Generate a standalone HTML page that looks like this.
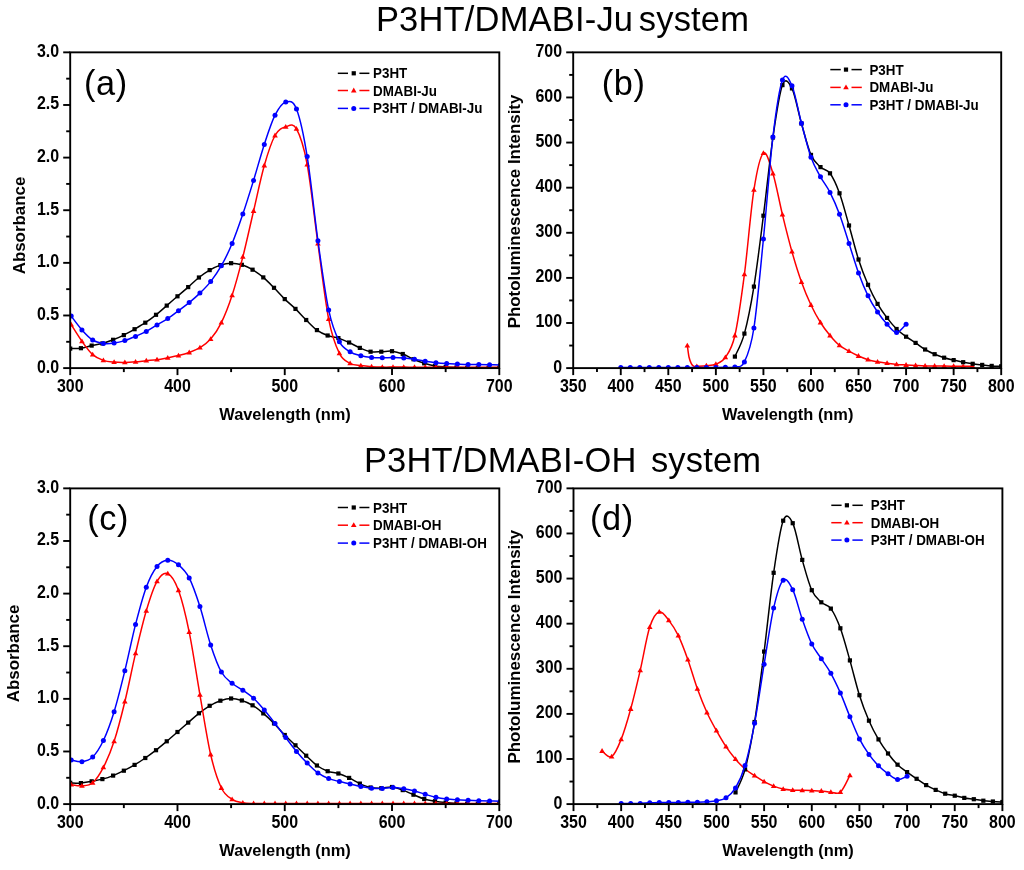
<!DOCTYPE html>
<html><head><meta charset="utf-8"><title>P3HT/DMABI spectra</title><style>html,body{margin:0;padding:0;background:#fff;width:1024px;height:870px;overflow:hidden;}svg{display:block;will-change:transform;font-family:"Liberation Sans",sans-serif;}</style></head><body><svg width="1024" height="870" viewBox="0 0 1024 870"><rect width="1024" height="870" fill="#fff"/>
<defs><clipPath id="ca"><rect x="70.20" y="52.35" width="429.10" height="315.75"/></clipPath><clipPath id="cb"><rect x="573.20" y="52.35" width="428.00" height="315.75"/></clipPath><clipPath id="cc"><rect x="70.20" y="488.40" width="429.10" height="315.70"/></clipPath><clipPath id="cd"><rect x="573.50" y="488.40" width="428.90" height="315.70"/></clipPath></defs>
<text x="375.90" y="31.2" font-size="34.5" letter-spacing="0.18" font-family="'Liberation Sans', sans-serif">P3HT/DMABI-Ju</text>
<text x="638.80" y="31.2" font-size="34.5" letter-spacing="0.18" font-family="'Liberation Sans', sans-serif">system</text>
<text x="363.90" y="471.9" font-size="34.5" letter-spacing="0.18" font-family="'Liberation Sans', sans-serif">P3HT/DMABI-OH</text>
<text x="650.90" y="471.9" font-size="34.5" letter-spacing="0.18" font-family="'Liberation Sans', sans-serif">system</text>
<g clip-path="url(#ca)"><path d="M70.20,348.60 C71.99,348.53 77.35,348.70 80.93,348.20 C84.50,347.70 88.08,346.40 91.66,345.60 C95.23,344.80 98.81,344.37 102.38,343.40 C105.96,342.43 109.53,341.18 113.11,339.80 C116.69,338.42 120.26,336.87 123.84,335.10 C127.41,333.33 130.99,331.27 134.56,329.20 C138.14,327.13 141.72,325.10 145.29,322.70 C148.87,320.30 152.44,317.65 156.02,314.80 C159.60,311.95 163.17,308.68 166.75,305.60 C170.32,302.52 173.90,299.38 177.48,296.30 C181.05,293.22 184.63,290.23 188.20,287.10 C191.78,283.97 195.35,280.33 198.93,277.50 C202.51,274.67 206.08,272.17 209.66,270.10 C213.23,268.03 216.81,266.25 220.38,265.10 C223.96,263.95 227.54,263.25 231.11,263.20 C234.69,263.15 238.26,263.72 241.84,264.80 C245.42,265.88 248.99,267.60 252.57,269.70 C256.14,271.80 259.72,274.38 263.30,277.40 C266.87,280.42 270.45,284.18 274.02,287.80 C277.60,291.42 281.17,295.58 284.75,299.10 C288.33,302.62 291.90,305.42 295.48,308.90 C299.05,312.38 302.63,316.47 306.20,320.00 C309.78,323.53 313.36,327.52 316.93,330.10 C320.51,332.68 324.08,334.17 327.66,335.50 C331.24,336.83 334.81,336.93 338.39,338.10 C341.96,339.27 345.54,340.87 349.12,342.50 C352.69,344.13 356.27,346.37 359.84,347.90 C363.42,349.43 366.99,351.07 370.57,351.70 C374.15,352.33 377.72,351.78 381.30,351.70 C384.87,351.62 388.45,350.82 392.02,351.20 C395.60,351.58 399.18,352.67 402.75,354.00 C406.33,355.33 409.90,357.65 413.48,359.20 C417.06,360.75 420.63,362.18 424.21,363.30 C427.78,364.42 431.36,365.28 434.94,365.90 C438.51,366.52 442.09,366.72 445.66,367.00 C449.24,367.28 452.81,367.47 456.39,367.60 C459.97,367.73 463.54,367.77 467.12,367.80 C470.69,367.83 474.27,367.80 477.84,367.80 C481.42,367.80 485.00,367.80 488.57,367.80 C492.15,367.80 497.51,367.80 499.30,367.80" fill="none" stroke="#000" stroke-width="1.5" stroke-linejoin="round"/><rect x="68.10" y="346.50" width="4.20" height="4.20" fill="#000"/><rect x="78.83" y="346.10" width="4.20" height="4.20" fill="#000"/><rect x="89.56" y="343.50" width="4.20" height="4.20" fill="#000"/><rect x="100.28" y="341.30" width="4.20" height="4.20" fill="#000"/><rect x="111.01" y="337.70" width="4.20" height="4.20" fill="#000"/><rect x="121.74" y="333.00" width="4.20" height="4.20" fill="#000"/><rect x="132.47" y="327.10" width="4.20" height="4.20" fill="#000"/><rect x="143.19" y="320.60" width="4.20" height="4.20" fill="#000"/><rect x="153.92" y="312.70" width="4.20" height="4.20" fill="#000"/><rect x="164.65" y="303.50" width="4.20" height="4.20" fill="#000"/><rect x="175.38" y="294.20" width="4.20" height="4.20" fill="#000"/><rect x="186.10" y="285.00" width="4.20" height="4.20" fill="#000"/><rect x="196.83" y="275.40" width="4.20" height="4.20" fill="#000"/><rect x="207.56" y="268.00" width="4.20" height="4.20" fill="#000"/><rect x="218.28" y="263.00" width="4.20" height="4.20" fill="#000"/><rect x="229.01" y="261.10" width="4.20" height="4.20" fill="#000"/><rect x="239.74" y="262.70" width="4.20" height="4.20" fill="#000"/><rect x="250.47" y="267.60" width="4.20" height="4.20" fill="#000"/><rect x="261.19" y="275.30" width="4.20" height="4.20" fill="#000"/><rect x="271.92" y="285.70" width="4.20" height="4.20" fill="#000"/><rect x="282.65" y="297.00" width="4.20" height="4.20" fill="#000"/><rect x="293.38" y="306.80" width="4.20" height="4.20" fill="#000"/><rect x="304.10" y="317.90" width="4.20" height="4.20" fill="#000"/><rect x="314.83" y="328.00" width="4.20" height="4.20" fill="#000"/><rect x="325.56" y="333.40" width="4.20" height="4.20" fill="#000"/><rect x="336.29" y="336.00" width="4.20" height="4.20" fill="#000"/><rect x="347.01" y="340.40" width="4.20" height="4.20" fill="#000"/><rect x="357.74" y="345.80" width="4.20" height="4.20" fill="#000"/><rect x="368.47" y="349.60" width="4.20" height="4.20" fill="#000"/><rect x="379.20" y="349.60" width="4.20" height="4.20" fill="#000"/><rect x="389.92" y="349.10" width="4.20" height="4.20" fill="#000"/><rect x="400.65" y="351.90" width="4.20" height="4.20" fill="#000"/><rect x="411.38" y="357.10" width="4.20" height="4.20" fill="#000"/><rect x="422.11" y="361.20" width="4.20" height="4.20" fill="#000"/><rect x="432.83" y="363.80" width="4.20" height="4.20" fill="#000"/><rect x="443.56" y="364.90" width="4.20" height="4.20" fill="#000"/><rect x="454.29" y="365.50" width="4.20" height="4.20" fill="#000"/><rect x="465.02" y="365.70" width="4.20" height="4.20" fill="#000"/><rect x="475.74" y="365.70" width="4.20" height="4.20" fill="#000"/><rect x="486.47" y="365.70" width="4.20" height="4.20" fill="#000"/><rect x="497.20" y="365.70" width="4.20" height="4.20" fill="#000"/></g>
<g clip-path="url(#ca)"><path d="M71.20,324.70 C72.99,327.47 78.35,336.32 81.93,341.30 C85.50,346.28 89.08,351.42 92.66,354.60 C96.23,357.78 99.81,359.15 103.38,360.40 C106.96,361.65 110.53,361.77 114.11,362.10 C117.69,362.43 121.26,362.45 124.84,362.40 C128.41,362.35 131.99,362.08 135.56,361.80 C139.14,361.52 142.72,361.05 146.29,360.70 C149.87,360.35 153.44,360.18 157.02,359.70 C160.60,359.22 164.17,358.48 167.75,357.80 C171.32,357.12 174.90,356.48 178.48,355.60 C182.05,354.72 185.63,353.82 189.20,352.50 C192.78,351.18 196.35,349.93 199.93,347.70 C203.51,345.47 207.08,343.28 210.66,339.10 C214.23,334.92 217.81,329.90 221.38,322.60 C224.96,315.30 228.54,306.25 232.11,295.30 C235.69,284.35 239.26,270.95 242.84,256.90 C246.42,242.85 249.99,226.23 253.57,211.00 C257.14,195.77 260.72,178.08 264.30,165.50 C267.87,152.92 271.45,141.95 275.02,135.50 C278.60,129.05 282.17,127.90 285.75,126.80 C289.33,125.70 292.90,122.62 296.48,128.90 C300.05,135.18 303.63,145.37 307.20,164.50 C310.78,183.63 314.36,217.93 317.93,243.70 C321.51,269.47 325.08,300.82 328.66,319.10 C332.24,337.38 335.81,346.02 339.39,353.40 C342.96,360.78 346.54,361.37 350.12,363.40 C353.69,365.43 357.27,365.05 360.84,365.60 C364.42,366.15 367.99,366.45 371.57,366.70 C375.15,366.95 378.72,367.03 382.30,367.10 C385.87,367.17 389.45,367.10 393.02,367.10 C396.60,367.10 400.18,367.08 403.75,367.10 C407.33,367.12 410.90,367.18 414.48,367.20 C418.06,367.22 421.63,367.20 425.21,367.20 C428.78,367.20 432.36,367.18 435.94,367.20 C439.51,367.22 443.09,367.28 446.66,367.30 C450.24,367.32 453.81,367.30 457.39,367.30 C460.97,367.30 464.54,367.30 468.12,367.30 C471.69,367.30 475.27,367.30 478.84,367.30 C482.42,367.30 486.00,367.30 489.57,367.30 C493.15,367.30 498.51,367.30 500.30,367.30" fill="none" stroke="#ff0000" stroke-width="1.5" stroke-linejoin="round"/><path d="M71.20,321.82L74.00,326.62L68.40,326.62Z" fill="#ff0000"/><path d="M81.93,338.42L84.73,343.22L79.13,343.22Z" fill="#ff0000"/><path d="M92.66,351.72L95.45,356.52L89.86,356.52Z" fill="#ff0000"/><path d="M103.38,357.52L106.18,362.32L100.58,362.32Z" fill="#ff0000"/><path d="M114.11,359.22L116.91,364.02L111.31,364.02Z" fill="#ff0000"/><path d="M124.84,359.52L127.64,364.32L122.04,364.32Z" fill="#ff0000"/><path d="M135.56,358.92L138.37,363.72L132.76,363.72Z" fill="#ff0000"/><path d="M146.29,357.82L149.09,362.62L143.49,362.62Z" fill="#ff0000"/><path d="M157.02,356.82L159.82,361.62L154.22,361.62Z" fill="#ff0000"/><path d="M167.75,354.92L170.55,359.72L164.95,359.72Z" fill="#ff0000"/><path d="M178.48,352.72L181.28,357.52L175.68,357.52Z" fill="#ff0000"/><path d="M189.20,349.62L192.00,354.42L186.40,354.42Z" fill="#ff0000"/><path d="M199.93,344.82L202.73,349.62L197.13,349.62Z" fill="#ff0000"/><path d="M210.66,336.22L213.46,341.02L207.86,341.02Z" fill="#ff0000"/><path d="M221.38,319.72L224.19,324.52L218.58,324.52Z" fill="#ff0000"/><path d="M232.11,292.42L234.91,297.22L229.31,297.22Z" fill="#ff0000"/><path d="M242.84,254.02L245.64,258.82L240.04,258.82Z" fill="#ff0000"/><path d="M253.57,208.12L256.37,212.92L250.77,212.92Z" fill="#ff0000"/><path d="M264.30,162.62L267.10,167.42L261.50,167.42Z" fill="#ff0000"/><path d="M275.02,132.62L277.82,137.42L272.22,137.42Z" fill="#ff0000"/><path d="M285.75,123.92L288.55,128.72L282.95,128.72Z" fill="#ff0000"/><path d="M296.48,126.02L299.28,130.82L293.68,130.82Z" fill="#ff0000"/><path d="M307.20,161.62L310.00,166.42L304.40,166.42Z" fill="#ff0000"/><path d="M317.93,240.82L320.73,245.62L315.13,245.62Z" fill="#ff0000"/><path d="M328.66,316.22L331.46,321.02L325.86,321.02Z" fill="#ff0000"/><path d="M339.39,350.52L342.19,355.32L336.59,355.32Z" fill="#ff0000"/><path d="M350.12,360.52L352.92,365.32L347.31,365.32Z" fill="#ff0000"/><path d="M360.84,362.72L363.64,367.52L358.04,367.52Z" fill="#ff0000"/><path d="M371.57,363.82L374.37,368.62L368.77,368.62Z" fill="#ff0000"/><path d="M382.30,364.22L385.10,369.02L379.50,369.02Z" fill="#ff0000"/><path d="M393.02,364.22L395.82,369.02L390.22,369.02Z" fill="#ff0000"/><path d="M403.75,364.22L406.55,369.02L400.95,369.02Z" fill="#ff0000"/><path d="M414.48,364.32L417.28,369.12L411.68,369.12Z" fill="#ff0000"/><path d="M425.21,364.32L428.01,369.12L422.41,369.12Z" fill="#ff0000"/><path d="M435.94,364.32L438.74,369.12L433.13,369.12Z" fill="#ff0000"/><path d="M446.66,364.42L449.46,369.22L443.86,369.22Z" fill="#ff0000"/><path d="M457.39,364.42L460.19,369.22L454.59,369.22Z" fill="#ff0000"/><path d="M468.12,364.42L470.92,369.22L465.32,369.22Z" fill="#ff0000"/><path d="M478.84,364.42L481.64,369.22L476.04,369.22Z" fill="#ff0000"/><path d="M489.57,364.42L492.37,369.22L486.77,369.22Z" fill="#ff0000"/><path d="M500.30,364.42L503.10,369.22L497.50,369.22Z" fill="#ff0000"/></g>
<g clip-path="url(#ca)"><path d="M71.20,316.10 C72.99,318.40 78.35,325.92 81.93,329.90 C85.50,333.88 89.08,337.75 92.66,340.00 C96.23,342.25 99.81,342.88 103.38,343.40 C106.96,343.92 110.53,343.57 114.11,343.10 C117.69,342.63 121.26,341.72 124.84,340.60 C128.41,339.48 131.99,337.93 135.56,336.40 C139.14,334.87 142.72,333.32 146.29,331.40 C149.87,329.48 153.44,327.03 157.02,324.90 C160.60,322.77 164.17,320.95 167.75,318.60 C171.32,316.25 174.90,313.47 178.48,310.80 C182.05,308.13 185.63,305.55 189.20,302.60 C192.78,299.65 196.35,296.60 199.93,293.10 C203.51,289.60 207.08,286.17 210.66,281.60 C214.23,277.03 217.81,272.05 221.38,265.70 C224.96,259.35 228.54,252.10 232.11,243.50 C235.69,234.90 239.26,224.62 242.84,214.10 C246.42,203.58 249.99,192.02 253.57,180.40 C257.14,168.78 260.72,155.27 264.30,144.40 C267.87,133.53 271.45,122.27 275.02,115.20 C278.60,108.13 282.17,103.03 285.75,102.00 C289.33,100.97 292.90,99.90 296.48,109.00 C300.05,118.10 303.63,134.65 307.20,156.60 C310.78,178.55 314.36,215.15 317.93,240.70 C321.51,266.25 325.08,293.07 328.66,309.90 C332.24,326.73 335.81,334.72 339.39,341.70 C342.96,348.68 346.54,349.47 350.12,351.80 C353.69,354.13 357.27,354.75 360.84,355.70 C364.42,356.65 367.99,357.15 371.57,357.50 C375.15,357.85 378.72,357.78 382.30,357.80 C385.87,357.82 389.45,357.58 393.02,357.60 C396.60,357.62 400.18,357.63 403.75,357.90 C407.33,358.17 410.90,358.65 414.48,359.20 C418.06,359.75 421.63,360.62 425.21,361.20 C428.78,361.78 432.36,362.30 435.94,362.70 C439.51,363.10 443.09,363.37 446.66,363.60 C450.24,363.83 453.81,363.95 457.39,364.10 C460.97,364.25 464.54,364.43 468.12,364.50 C471.69,364.57 475.27,364.47 478.84,364.50 C482.42,364.53 486.00,364.62 489.57,364.70 C493.15,364.78 498.51,364.95 500.30,365.00" fill="none" stroke="#0000ff" stroke-width="1.5" stroke-linejoin="round"/><circle cx="71.20" cy="316.10" r="2.50" fill="#0000ff"/><circle cx="81.93" cy="329.90" r="2.50" fill="#0000ff"/><circle cx="92.66" cy="340.00" r="2.50" fill="#0000ff"/><circle cx="103.38" cy="343.40" r="2.50" fill="#0000ff"/><circle cx="114.11" cy="343.10" r="2.50" fill="#0000ff"/><circle cx="124.84" cy="340.60" r="2.50" fill="#0000ff"/><circle cx="135.56" cy="336.40" r="2.50" fill="#0000ff"/><circle cx="146.29" cy="331.40" r="2.50" fill="#0000ff"/><circle cx="157.02" cy="324.90" r="2.50" fill="#0000ff"/><circle cx="167.75" cy="318.60" r="2.50" fill="#0000ff"/><circle cx="178.48" cy="310.80" r="2.50" fill="#0000ff"/><circle cx="189.20" cy="302.60" r="2.50" fill="#0000ff"/><circle cx="199.93" cy="293.10" r="2.50" fill="#0000ff"/><circle cx="210.66" cy="281.60" r="2.50" fill="#0000ff"/><circle cx="221.38" cy="265.70" r="2.50" fill="#0000ff"/><circle cx="232.11" cy="243.50" r="2.50" fill="#0000ff"/><circle cx="242.84" cy="214.10" r="2.50" fill="#0000ff"/><circle cx="253.57" cy="180.40" r="2.50" fill="#0000ff"/><circle cx="264.30" cy="144.40" r="2.50" fill="#0000ff"/><circle cx="275.02" cy="115.20" r="2.50" fill="#0000ff"/><circle cx="285.75" cy="102.00" r="2.50" fill="#0000ff"/><circle cx="296.48" cy="109.00" r="2.50" fill="#0000ff"/><circle cx="307.20" cy="156.60" r="2.50" fill="#0000ff"/><circle cx="317.93" cy="240.70" r="2.50" fill="#0000ff"/><circle cx="328.66" cy="309.90" r="2.50" fill="#0000ff"/><circle cx="339.39" cy="341.70" r="2.50" fill="#0000ff"/><circle cx="350.12" cy="351.80" r="2.50" fill="#0000ff"/><circle cx="360.84" cy="355.70" r="2.50" fill="#0000ff"/><circle cx="371.57" cy="357.50" r="2.50" fill="#0000ff"/><circle cx="382.30" cy="357.80" r="2.50" fill="#0000ff"/><circle cx="393.02" cy="357.60" r="2.50" fill="#0000ff"/><circle cx="403.75" cy="357.90" r="2.50" fill="#0000ff"/><circle cx="414.48" cy="359.20" r="2.50" fill="#0000ff"/><circle cx="425.21" cy="361.20" r="2.50" fill="#0000ff"/><circle cx="435.94" cy="362.70" r="2.50" fill="#0000ff"/><circle cx="446.66" cy="363.60" r="2.50" fill="#0000ff"/><circle cx="457.39" cy="364.10" r="2.50" fill="#0000ff"/><circle cx="468.12" cy="364.50" r="2.50" fill="#0000ff"/><circle cx="478.84" cy="364.50" r="2.50" fill="#0000ff"/><circle cx="489.57" cy="364.70" r="2.50" fill="#0000ff"/><circle cx="500.30" cy="365.00" r="2.50" fill="#0000ff"/></g>
<g clip-path="url(#cb)"><path d="M687.33,345.60 C687.61,347.50 688.34,354.00 689.00,357.00 C689.66,360.00 690.47,362.03 691.30,363.60 C692.13,365.17 693.08,365.95 694.00,366.40 C694.92,366.85 694.79,366.42 696.84,366.30 C698.90,366.18 703.19,366.05 706.36,365.70 C709.53,365.35 712.70,365.58 715.87,364.20 C719.04,362.82 722.21,362.18 725.38,357.40 C728.55,352.62 731.72,349.33 734.89,335.50 C738.06,321.67 741.23,298.67 744.40,274.40 C747.57,250.13 750.74,210.10 753.91,189.90 C757.08,169.70 760.25,155.93 763.42,153.20 C766.59,150.47 769.76,163.27 772.93,173.50 C776.10,183.73 779.27,201.57 782.44,214.60 C785.61,227.63 788.79,240.47 791.96,251.70 C795.13,262.93 798.30,273.12 801.47,282.00 C804.64,290.88 807.81,298.25 810.98,305.00 C814.15,311.75 817.32,317.42 820.49,322.50 C823.66,327.58 826.83,331.68 830.00,335.50 C833.17,339.32 836.34,342.80 839.51,345.40 C842.68,348.00 845.85,349.33 849.02,351.10 C852.19,352.87 855.36,354.57 858.53,356.00 C861.70,357.43 864.87,358.73 868.04,359.70 C871.21,360.67 874.39,361.22 877.56,361.80 C880.73,362.38 883.90,362.77 887.07,363.20 C890.24,363.63 893.41,364.10 896.58,364.40 C899.75,364.70 902.92,364.82 906.09,365.00 C909.26,365.18 912.43,365.35 915.60,365.50 C918.77,365.65 921.94,365.82 925.11,365.90 C928.28,365.98 931.45,365.97 934.62,366.00 C937.79,366.03 940.96,366.07 944.13,366.10 C947.30,366.13 950.47,366.17 953.64,366.20 C956.81,366.23 959.99,366.28 963.16,366.30 C966.33,366.32 971.08,366.30 972.67,366.30" fill="none" stroke="#ff0000" stroke-width="1.5" stroke-linejoin="round"/><path d="M687.33,342.72L690.13,347.52L684.53,347.52Z" fill="#ff0000"/><path d="M696.84,363.42L699.64,368.22L694.04,368.22Z" fill="#ff0000"/><path d="M706.36,362.82L709.16,367.62L703.56,367.62Z" fill="#ff0000"/><path d="M715.87,361.32L718.67,366.12L713.07,366.12Z" fill="#ff0000"/><path d="M725.38,354.52L728.18,359.32L722.58,359.32Z" fill="#ff0000"/><path d="M734.89,332.62L737.69,337.42L732.09,337.42Z" fill="#ff0000"/><path d="M744.40,271.52L747.20,276.32L741.60,276.32Z" fill="#ff0000"/><path d="M753.91,187.02L756.71,191.82L751.11,191.82Z" fill="#ff0000"/><path d="M763.42,150.32L766.22,155.12L760.62,155.12Z" fill="#ff0000"/><path d="M772.93,170.62L775.73,175.42L770.13,175.42Z" fill="#ff0000"/><path d="M782.44,211.72L785.24,216.52L779.64,216.52Z" fill="#ff0000"/><path d="M791.96,248.82L794.76,253.62L789.16,253.62Z" fill="#ff0000"/><path d="M801.47,279.12L804.27,283.92L798.67,283.92Z" fill="#ff0000"/><path d="M810.98,302.12L813.78,306.92L808.18,306.92Z" fill="#ff0000"/><path d="M820.49,319.62L823.29,324.42L817.69,324.42Z" fill="#ff0000"/><path d="M830.00,332.62L832.80,337.42L827.20,337.42Z" fill="#ff0000"/><path d="M839.51,342.52L842.31,347.32L836.71,347.32Z" fill="#ff0000"/><path d="M849.02,348.22L851.82,353.02L846.22,353.02Z" fill="#ff0000"/><path d="M858.53,353.12L861.33,357.92L855.73,357.92Z" fill="#ff0000"/><path d="M868.04,356.82L870.84,361.62L865.24,361.62Z" fill="#ff0000"/><path d="M877.56,358.92L880.36,363.72L874.76,363.72Z" fill="#ff0000"/><path d="M887.07,360.32L889.87,365.12L884.27,365.12Z" fill="#ff0000"/><path d="M896.58,361.52L899.38,366.32L893.78,366.32Z" fill="#ff0000"/><path d="M906.09,362.12L908.89,366.92L903.29,366.92Z" fill="#ff0000"/><path d="M915.60,362.62L918.40,367.42L912.80,367.42Z" fill="#ff0000"/><path d="M925.11,363.02L927.91,367.82L922.31,367.82Z" fill="#ff0000"/><path d="M934.62,363.12L937.42,367.92L931.82,367.92Z" fill="#ff0000"/><path d="M944.13,363.22L946.93,368.02L941.33,368.02Z" fill="#ff0000"/><path d="M953.64,363.32L956.44,368.12L950.84,368.12Z" fill="#ff0000"/><path d="M963.16,363.42L965.96,368.22L960.36,368.22Z" fill="#ff0000"/><path d="M972.67,363.42L975.47,368.22L969.87,368.22Z" fill="#ff0000"/></g>
<g clip-path="url(#cb)"><path d="M734.89,356.60 C736.47,352.77 741.23,345.27 744.40,333.60 C747.57,321.93 750.74,306.25 753.91,286.60 C757.08,266.95 760.25,240.55 763.42,215.70 C766.59,190.85 769.76,159.27 772.93,137.50 C776.10,115.73 779.27,93.28 782.44,85.10 C785.61,76.92 788.79,82.00 791.96,88.40 C795.13,94.80 798.30,112.42 801.47,123.50 C804.64,134.58 807.81,147.63 810.98,154.90 C814.15,162.17 817.32,164.03 820.49,167.10 C823.66,170.17 826.83,168.93 830.00,173.30 C833.17,177.67 836.34,184.60 839.51,193.30 C842.68,202.00 845.85,214.47 849.02,225.50 C852.19,236.53 855.36,249.62 858.53,259.50 C861.70,269.38 864.87,277.40 868.04,284.80 C871.21,292.20 874.39,298.38 877.56,303.90 C880.73,309.42 883.90,313.72 887.07,317.90 C890.24,322.08 893.41,325.87 896.58,329.00 C899.75,332.13 902.92,334.38 906.09,336.70 C909.26,339.02 912.43,340.77 915.60,342.90 C918.77,345.03 921.94,347.62 925.11,349.50 C928.28,351.38 931.45,352.83 934.62,354.20 C937.79,355.57 940.96,356.72 944.13,357.70 C947.30,358.68 950.47,359.35 953.64,360.10 C956.81,360.85 959.99,361.58 963.16,362.20 C966.33,362.82 969.50,363.35 972.67,363.80 C975.84,364.25 979.01,364.55 982.18,364.90 C985.35,365.25 988.52,365.67 991.69,365.90 C994.86,366.13 999.61,366.23 1001.20,366.30" fill="none" stroke="#000" stroke-width="1.5" stroke-linejoin="round"/><rect x="732.79" y="354.50" width="4.20" height="4.20" fill="#000"/><rect x="742.30" y="331.50" width="4.20" height="4.20" fill="#000"/><rect x="751.81" y="284.50" width="4.20" height="4.20" fill="#000"/><rect x="761.32" y="213.60" width="4.20" height="4.20" fill="#000"/><rect x="770.83" y="135.40" width="4.20" height="4.20" fill="#000"/><rect x="780.34" y="83.00" width="4.20" height="4.20" fill="#000"/><rect x="789.86" y="86.30" width="4.20" height="4.20" fill="#000"/><rect x="799.37" y="121.40" width="4.20" height="4.20" fill="#000"/><rect x="808.88" y="152.80" width="4.20" height="4.20" fill="#000"/><rect x="818.39" y="165.00" width="4.20" height="4.20" fill="#000"/><rect x="827.90" y="171.20" width="4.20" height="4.20" fill="#000"/><rect x="837.41" y="191.20" width="4.20" height="4.20" fill="#000"/><rect x="846.92" y="223.40" width="4.20" height="4.20" fill="#000"/><rect x="856.43" y="257.40" width="4.20" height="4.20" fill="#000"/><rect x="865.94" y="282.70" width="4.20" height="4.20" fill="#000"/><rect x="875.46" y="301.80" width="4.20" height="4.20" fill="#000"/><rect x="884.97" y="315.80" width="4.20" height="4.20" fill="#000"/><rect x="894.48" y="326.90" width="4.20" height="4.20" fill="#000"/><rect x="903.99" y="334.60" width="4.20" height="4.20" fill="#000"/><rect x="913.50" y="340.80" width="4.20" height="4.20" fill="#000"/><rect x="923.01" y="347.40" width="4.20" height="4.20" fill="#000"/><rect x="932.52" y="352.10" width="4.20" height="4.20" fill="#000"/><rect x="942.03" y="355.60" width="4.20" height="4.20" fill="#000"/><rect x="951.54" y="358.00" width="4.20" height="4.20" fill="#000"/><rect x="961.06" y="360.10" width="4.20" height="4.20" fill="#000"/><rect x="970.57" y="361.70" width="4.20" height="4.20" fill="#000"/><rect x="980.08" y="362.80" width="4.20" height="4.20" fill="#000"/><rect x="989.59" y="363.80" width="4.20" height="4.20" fill="#000"/><rect x="999.10" y="364.20" width="4.20" height="4.20" fill="#000"/></g>
<g clip-path="url(#cb)"><path d="M620.76,367.50 C622.34,367.50 627.10,367.50 630.27,367.50 C633.44,367.50 636.61,367.50 639.78,367.50 C642.95,367.50 646.12,367.50 649.29,367.50 C652.46,367.50 655.63,367.50 658.80,367.50 C661.97,367.50 665.14,367.50 668.31,367.50 C671.48,367.50 674.65,367.50 677.82,367.50 C680.99,367.50 684.16,367.50 687.33,367.50 C690.50,367.50 693.67,367.50 696.84,367.50 C700.01,367.50 703.19,367.52 706.36,367.50 C709.53,367.48 712.70,367.43 715.87,367.40 C719.04,367.37 722.21,367.35 725.38,367.30 C728.55,367.25 731.72,368.00 734.89,367.10 C738.06,366.20 741.23,368.42 744.40,361.90 C747.57,355.38 750.74,348.48 753.91,328.00 C757.08,307.52 760.25,270.85 763.42,239.00 C766.59,207.15 769.76,163.38 772.93,136.90 C776.10,110.42 779.27,88.62 782.44,80.10 C785.61,71.58 788.79,78.60 791.96,85.80 C795.13,93.00 798.30,111.40 801.47,123.30 C804.64,135.20 807.81,148.28 810.98,157.20 C814.15,166.12 817.32,170.93 820.49,176.80 C823.66,182.67 826.83,186.15 830.00,192.40 C833.17,198.65 836.34,205.80 839.51,214.30 C842.68,222.80 845.85,233.63 849.02,243.40 C852.19,253.17 855.36,264.17 858.53,272.90 C861.70,281.63 864.87,289.28 868.04,295.80 C871.21,302.32 874.39,307.27 877.56,312.00 C880.73,316.73 883.90,320.78 887.07,324.20 C890.24,327.62 893.41,332.50 896.58,332.50 C899.75,332.50 904.50,325.58 906.09,324.20" fill="none" stroke="#0000ff" stroke-width="1.5" stroke-linejoin="round"/><circle cx="620.76" cy="367.50" r="2.50" fill="#0000ff"/><circle cx="630.27" cy="367.50" r="2.50" fill="#0000ff"/><circle cx="639.78" cy="367.50" r="2.50" fill="#0000ff"/><circle cx="649.29" cy="367.50" r="2.50" fill="#0000ff"/><circle cx="658.80" cy="367.50" r="2.50" fill="#0000ff"/><circle cx="668.31" cy="367.50" r="2.50" fill="#0000ff"/><circle cx="677.82" cy="367.50" r="2.50" fill="#0000ff"/><circle cx="687.33" cy="367.50" r="2.50" fill="#0000ff"/><circle cx="696.84" cy="367.50" r="2.50" fill="#0000ff"/><circle cx="706.36" cy="367.50" r="2.50" fill="#0000ff"/><circle cx="715.87" cy="367.40" r="2.50" fill="#0000ff"/><circle cx="725.38" cy="367.30" r="2.50" fill="#0000ff"/><circle cx="734.89" cy="367.10" r="2.50" fill="#0000ff"/><circle cx="744.40" cy="361.90" r="2.50" fill="#0000ff"/><circle cx="753.91" cy="328.00" r="2.50" fill="#0000ff"/><circle cx="763.42" cy="239.00" r="2.50" fill="#0000ff"/><circle cx="772.93" cy="136.90" r="2.50" fill="#0000ff"/><circle cx="782.44" cy="80.10" r="2.50" fill="#0000ff"/><circle cx="791.96" cy="85.80" r="2.50" fill="#0000ff"/><circle cx="801.47" cy="123.30" r="2.50" fill="#0000ff"/><circle cx="810.98" cy="157.20" r="2.50" fill="#0000ff"/><circle cx="820.49" cy="176.80" r="2.50" fill="#0000ff"/><circle cx="830.00" cy="192.40" r="2.50" fill="#0000ff"/><circle cx="839.51" cy="214.30" r="2.50" fill="#0000ff"/><circle cx="849.02" cy="243.40" r="2.50" fill="#0000ff"/><circle cx="858.53" cy="272.90" r="2.50" fill="#0000ff"/><circle cx="868.04" cy="295.80" r="2.50" fill="#0000ff"/><circle cx="877.56" cy="312.00" r="2.50" fill="#0000ff"/><circle cx="887.07" cy="324.20" r="2.50" fill="#0000ff"/><circle cx="896.58" cy="332.50" r="2.50" fill="#0000ff"/><circle cx="906.09" cy="324.20" r="2.50" fill="#0000ff"/></g>
<g clip-path="url(#cc)"><path d="M70.20,782.80 C71.99,782.85 77.35,783.35 80.93,783.10 C84.50,782.85 88.08,781.97 91.66,781.30 C95.23,780.63 98.81,780.05 102.38,779.10 C105.96,778.15 109.53,777.00 113.11,775.60 C116.69,774.20 120.26,772.48 123.84,770.70 C127.41,768.92 130.99,767.02 134.56,764.90 C138.14,762.78 141.72,760.45 145.29,758.00 C148.87,755.55 152.44,752.98 156.02,750.20 C159.60,747.42 163.17,744.33 166.75,741.30 C170.32,738.27 173.90,735.12 177.48,732.00 C181.05,728.88 184.63,725.72 188.20,722.60 C191.78,719.48 195.35,716.10 198.93,713.30 C202.51,710.50 206.08,707.90 209.66,705.80 C213.23,703.70 216.81,701.92 220.38,700.70 C223.96,699.48 227.54,698.53 231.11,698.50 C234.69,698.47 238.26,699.37 241.84,700.50 C245.42,701.63 248.99,703.15 252.57,705.30 C256.14,707.45 259.72,710.38 263.30,713.40 C266.87,716.42 270.45,719.80 274.02,723.40 C277.60,727.00 281.17,731.35 284.75,735.00 C288.33,738.65 291.90,741.85 295.48,745.30 C299.05,748.75 302.63,752.33 306.20,755.70 C309.78,759.07 313.36,762.92 316.93,765.50 C320.51,768.08 324.08,769.87 327.66,771.20 C331.24,772.53 334.81,772.38 338.39,773.50 C341.96,774.62 345.54,776.22 349.12,777.90 C352.69,779.58 356.27,782.00 359.84,783.60 C363.42,785.20 366.99,786.73 370.57,787.50 C374.15,788.27 377.72,788.28 381.30,788.20 C384.87,788.12 388.45,786.68 392.02,787.00 C395.60,787.32 399.18,788.82 402.75,790.10 C406.33,791.38 409.90,793.22 413.48,794.70 C417.06,796.18 420.63,797.92 424.21,799.00 C427.78,800.08 431.36,800.60 434.94,801.20 C438.51,801.80 442.09,802.23 445.66,802.60 C449.24,802.97 452.81,803.22 456.39,803.40 C459.97,803.58 463.54,803.63 467.12,803.70 C470.69,803.77 474.27,803.78 477.84,803.80 C481.42,803.82 485.00,803.80 488.57,803.80 C492.15,803.80 497.51,803.80 499.30,803.80" fill="none" stroke="#000" stroke-width="1.5" stroke-linejoin="round"/><rect x="68.10" y="780.70" width="4.20" height="4.20" fill="#000"/><rect x="78.83" y="781.00" width="4.20" height="4.20" fill="#000"/><rect x="89.56" y="779.20" width="4.20" height="4.20" fill="#000"/><rect x="100.28" y="777.00" width="4.20" height="4.20" fill="#000"/><rect x="111.01" y="773.50" width="4.20" height="4.20" fill="#000"/><rect x="121.74" y="768.60" width="4.20" height="4.20" fill="#000"/><rect x="132.47" y="762.80" width="4.20" height="4.20" fill="#000"/><rect x="143.19" y="755.90" width="4.20" height="4.20" fill="#000"/><rect x="153.92" y="748.10" width="4.20" height="4.20" fill="#000"/><rect x="164.65" y="739.20" width="4.20" height="4.20" fill="#000"/><rect x="175.38" y="729.90" width="4.20" height="4.20" fill="#000"/><rect x="186.10" y="720.50" width="4.20" height="4.20" fill="#000"/><rect x="196.83" y="711.20" width="4.20" height="4.20" fill="#000"/><rect x="207.56" y="703.70" width="4.20" height="4.20" fill="#000"/><rect x="218.28" y="698.60" width="4.20" height="4.20" fill="#000"/><rect x="229.01" y="696.40" width="4.20" height="4.20" fill="#000"/><rect x="239.74" y="698.40" width="4.20" height="4.20" fill="#000"/><rect x="250.47" y="703.20" width="4.20" height="4.20" fill="#000"/><rect x="261.19" y="711.30" width="4.20" height="4.20" fill="#000"/><rect x="271.92" y="721.30" width="4.20" height="4.20" fill="#000"/><rect x="282.65" y="732.90" width="4.20" height="4.20" fill="#000"/><rect x="293.38" y="743.20" width="4.20" height="4.20" fill="#000"/><rect x="304.10" y="753.60" width="4.20" height="4.20" fill="#000"/><rect x="314.83" y="763.40" width="4.20" height="4.20" fill="#000"/><rect x="325.56" y="769.10" width="4.20" height="4.20" fill="#000"/><rect x="336.29" y="771.40" width="4.20" height="4.20" fill="#000"/><rect x="347.01" y="775.80" width="4.20" height="4.20" fill="#000"/><rect x="357.74" y="781.50" width="4.20" height="4.20" fill="#000"/><rect x="368.47" y="785.40" width="4.20" height="4.20" fill="#000"/><rect x="379.20" y="786.10" width="4.20" height="4.20" fill="#000"/><rect x="389.92" y="784.90" width="4.20" height="4.20" fill="#000"/><rect x="400.65" y="788.00" width="4.20" height="4.20" fill="#000"/><rect x="411.38" y="792.60" width="4.20" height="4.20" fill="#000"/><rect x="422.11" y="796.90" width="4.20" height="4.20" fill="#000"/><rect x="432.83" y="799.10" width="4.20" height="4.20" fill="#000"/><rect x="443.56" y="800.50" width="4.20" height="4.20" fill="#000"/><rect x="454.29" y="801.30" width="4.20" height="4.20" fill="#000"/><rect x="465.02" y="801.60" width="4.20" height="4.20" fill="#000"/><rect x="475.74" y="801.70" width="4.20" height="4.20" fill="#000"/><rect x="486.47" y="801.70" width="4.20" height="4.20" fill="#000"/><rect x="497.20" y="801.70" width="4.20" height="4.20" fill="#000"/></g>
<g clip-path="url(#cc)"><path d="M71.20,784.60 C72.99,784.80 78.35,786.10 81.93,785.80 C85.50,785.50 89.08,785.87 92.66,782.80 C96.23,779.73 99.81,774.32 103.38,767.40 C106.96,760.48 110.53,752.25 114.11,741.30 C117.69,730.35 121.26,716.35 124.84,701.70 C128.41,687.05 131.99,668.55 135.56,653.40 C139.14,638.25 142.72,622.80 146.29,610.80 C149.87,598.80 153.44,587.58 157.02,581.40 C160.60,575.22 164.17,572.22 167.75,573.70 C171.32,575.18 174.90,580.57 178.48,590.30 C182.05,600.03 185.63,614.68 189.20,632.10 C192.78,649.52 196.35,674.40 199.93,694.80 C203.51,715.20 207.08,738.97 210.66,754.50 C214.23,770.03 217.81,780.53 221.38,788.00 C224.96,795.47 228.54,796.83 232.11,799.30 C235.69,801.77 239.26,802.10 242.84,802.80 C246.42,803.50 249.99,803.38 253.57,803.50 C257.14,803.62 260.72,803.50 264.30,803.50 C267.87,803.50 271.45,803.50 275.02,803.50 C278.60,803.50 282.17,803.50 285.75,803.50 C289.33,803.50 292.90,803.50 296.48,803.50 C300.05,803.50 303.63,803.50 307.20,803.50 C310.78,803.50 314.36,803.50 317.93,803.50 C321.51,803.50 325.08,803.50 328.66,803.50 C332.24,803.50 335.81,803.50 339.39,803.50 C342.96,803.50 346.54,803.50 350.12,803.50 C353.69,803.50 357.27,803.50 360.84,803.50 C364.42,803.50 367.99,803.50 371.57,803.50 C375.15,803.50 378.72,803.50 382.30,803.50 C385.87,803.50 389.45,803.50 393.02,803.50 C396.60,803.50 400.18,803.50 403.75,803.50 C407.33,803.50 410.90,803.50 414.48,803.50 C418.06,803.50 421.63,803.50 425.21,803.50 C428.78,803.50 432.36,803.50 435.94,803.50 C439.51,803.50 443.09,803.50 446.66,803.50 C450.24,803.50 453.81,803.50 457.39,803.50 C460.97,803.50 464.54,803.50 468.12,803.50 C471.69,803.50 475.27,803.50 478.84,803.50 C482.42,803.50 486.00,803.50 489.57,803.50 C493.15,803.50 498.51,803.50 500.30,803.50" fill="none" stroke="#ff0000" stroke-width="1.5" stroke-linejoin="round"/><path d="M71.20,781.72L74.00,786.52L68.40,786.52Z" fill="#ff0000"/><path d="M81.93,782.92L84.73,787.72L79.13,787.72Z" fill="#ff0000"/><path d="M92.66,779.92L95.45,784.72L89.86,784.72Z" fill="#ff0000"/><path d="M103.38,764.52L106.18,769.32L100.58,769.32Z" fill="#ff0000"/><path d="M114.11,738.42L116.91,743.22L111.31,743.22Z" fill="#ff0000"/><path d="M124.84,698.82L127.64,703.62L122.04,703.62Z" fill="#ff0000"/><path d="M135.56,650.52L138.37,655.32L132.76,655.32Z" fill="#ff0000"/><path d="M146.29,607.92L149.09,612.72L143.49,612.72Z" fill="#ff0000"/><path d="M157.02,578.52L159.82,583.32L154.22,583.32Z" fill="#ff0000"/><path d="M167.75,570.82L170.55,575.62L164.95,575.62Z" fill="#ff0000"/><path d="M178.48,587.42L181.28,592.22L175.68,592.22Z" fill="#ff0000"/><path d="M189.20,629.22L192.00,634.02L186.40,634.02Z" fill="#ff0000"/><path d="M199.93,691.92L202.73,696.72L197.13,696.72Z" fill="#ff0000"/><path d="M210.66,751.62L213.46,756.42L207.86,756.42Z" fill="#ff0000"/><path d="M221.38,785.12L224.19,789.92L218.58,789.92Z" fill="#ff0000"/><path d="M232.11,796.42L234.91,801.22L229.31,801.22Z" fill="#ff0000"/><path d="M242.84,799.92L245.64,804.72L240.04,804.72Z" fill="#ff0000"/><path d="M253.57,800.62L256.37,805.42L250.77,805.42Z" fill="#ff0000"/><path d="M264.30,800.62L267.10,805.42L261.50,805.42Z" fill="#ff0000"/><path d="M275.02,800.62L277.82,805.42L272.22,805.42Z" fill="#ff0000"/><path d="M285.75,800.62L288.55,805.42L282.95,805.42Z" fill="#ff0000"/><path d="M296.48,800.62L299.28,805.42L293.68,805.42Z" fill="#ff0000"/><path d="M307.20,800.62L310.00,805.42L304.40,805.42Z" fill="#ff0000"/><path d="M317.93,800.62L320.73,805.42L315.13,805.42Z" fill="#ff0000"/><path d="M328.66,800.62L331.46,805.42L325.86,805.42Z" fill="#ff0000"/><path d="M339.39,800.62L342.19,805.42L336.59,805.42Z" fill="#ff0000"/><path d="M350.12,800.62L352.92,805.42L347.31,805.42Z" fill="#ff0000"/><path d="M360.84,800.62L363.64,805.42L358.04,805.42Z" fill="#ff0000"/><path d="M371.57,800.62L374.37,805.42L368.77,805.42Z" fill="#ff0000"/><path d="M382.30,800.62L385.10,805.42L379.50,805.42Z" fill="#ff0000"/><path d="M393.02,800.62L395.82,805.42L390.22,805.42Z" fill="#ff0000"/><path d="M403.75,800.62L406.55,805.42L400.95,805.42Z" fill="#ff0000"/><path d="M414.48,800.62L417.28,805.42L411.68,805.42Z" fill="#ff0000"/><path d="M425.21,800.62L428.01,805.42L422.41,805.42Z" fill="#ff0000"/><path d="M435.94,800.62L438.74,805.42L433.13,805.42Z" fill="#ff0000"/><path d="M446.66,800.62L449.46,805.42L443.86,805.42Z" fill="#ff0000"/><path d="M457.39,800.62L460.19,805.42L454.59,805.42Z" fill="#ff0000"/><path d="M468.12,800.62L470.92,805.42L465.32,805.42Z" fill="#ff0000"/><path d="M478.84,800.62L481.64,805.42L476.04,805.42Z" fill="#ff0000"/><path d="M489.57,800.62L492.37,805.42L486.77,805.42Z" fill="#ff0000"/><path d="M500.30,800.62L503.10,805.42L497.50,805.42Z" fill="#ff0000"/></g>
<g clip-path="url(#cc)"><path d="M71.20,759.90 C72.99,760.20 78.35,762.18 81.93,761.70 C85.50,761.22 89.08,760.53 92.66,757.00 C96.23,753.47 99.81,748.05 103.38,740.50 C106.96,732.95 110.53,723.32 114.11,711.70 C117.69,700.08 121.26,685.35 124.84,670.80 C128.41,656.25 131.99,638.33 135.56,624.40 C139.14,610.47 142.72,596.85 146.29,587.20 C149.87,577.55 153.44,570.98 157.02,566.50 C160.60,562.02 164.17,560.58 167.75,560.30 C171.32,560.02 174.90,561.87 178.48,564.80 C182.05,567.73 185.63,570.93 189.20,577.90 C192.78,584.87 196.35,595.43 199.93,606.60 C203.51,617.77 207.08,634.00 210.66,644.90 C214.23,655.80 217.81,665.60 221.38,672.00 C224.96,678.40 228.54,680.27 232.11,683.30 C235.69,686.33 239.26,687.70 242.84,690.20 C246.42,692.70 249.99,695.00 253.57,698.30 C257.14,701.60 260.72,705.82 264.30,710.00 C267.87,714.18 271.45,718.80 275.02,723.40 C278.60,728.00 282.17,732.93 285.75,737.60 C289.33,742.27 292.90,747.15 296.48,751.40 C300.05,755.65 303.63,759.52 307.20,763.10 C310.78,766.68 314.36,770.32 317.93,772.90 C321.51,775.48 325.08,777.17 328.66,778.60 C332.24,780.03 335.81,780.62 339.39,781.50 C342.96,782.38 346.54,783.07 350.12,783.90 C353.69,784.73 357.27,785.78 360.84,786.50 C364.42,787.22 367.99,787.88 371.57,788.20 C375.15,788.52 378.72,788.52 382.30,788.40 C385.87,788.28 389.45,787.45 393.02,787.50 C396.60,787.55 400.18,788.13 403.75,788.70 C407.33,789.27 410.90,789.97 414.48,790.90 C418.06,791.83 421.63,793.23 425.21,794.30 C428.78,795.37 432.36,796.52 435.94,797.30 C439.51,798.08 443.09,798.58 446.66,799.00 C450.24,799.42 453.81,799.58 457.39,799.80 C460.97,800.02 464.54,800.15 468.12,800.30 C471.69,800.45 475.27,800.58 478.84,800.70 C482.42,800.82 486.00,800.92 489.57,801.00 C493.15,801.08 498.51,801.17 500.30,801.20" fill="none" stroke="#0000ff" stroke-width="1.5" stroke-linejoin="round"/><circle cx="71.20" cy="759.90" r="2.50" fill="#0000ff"/><circle cx="81.93" cy="761.70" r="2.50" fill="#0000ff"/><circle cx="92.66" cy="757.00" r="2.50" fill="#0000ff"/><circle cx="103.38" cy="740.50" r="2.50" fill="#0000ff"/><circle cx="114.11" cy="711.70" r="2.50" fill="#0000ff"/><circle cx="124.84" cy="670.80" r="2.50" fill="#0000ff"/><circle cx="135.56" cy="624.40" r="2.50" fill="#0000ff"/><circle cx="146.29" cy="587.20" r="2.50" fill="#0000ff"/><circle cx="157.02" cy="566.50" r="2.50" fill="#0000ff"/><circle cx="167.75" cy="560.30" r="2.50" fill="#0000ff"/><circle cx="178.48" cy="564.80" r="2.50" fill="#0000ff"/><circle cx="189.20" cy="577.90" r="2.50" fill="#0000ff"/><circle cx="199.93" cy="606.60" r="2.50" fill="#0000ff"/><circle cx="210.66" cy="644.90" r="2.50" fill="#0000ff"/><circle cx="221.38" cy="672.00" r="2.50" fill="#0000ff"/><circle cx="232.11" cy="683.30" r="2.50" fill="#0000ff"/><circle cx="242.84" cy="690.20" r="2.50" fill="#0000ff"/><circle cx="253.57" cy="698.30" r="2.50" fill="#0000ff"/><circle cx="264.30" cy="710.00" r="2.50" fill="#0000ff"/><circle cx="275.02" cy="723.40" r="2.50" fill="#0000ff"/><circle cx="285.75" cy="737.60" r="2.50" fill="#0000ff"/><circle cx="296.48" cy="751.40" r="2.50" fill="#0000ff"/><circle cx="307.20" cy="763.10" r="2.50" fill="#0000ff"/><circle cx="317.93" cy="772.90" r="2.50" fill="#0000ff"/><circle cx="328.66" cy="778.60" r="2.50" fill="#0000ff"/><circle cx="339.39" cy="781.50" r="2.50" fill="#0000ff"/><circle cx="350.12" cy="783.90" r="2.50" fill="#0000ff"/><circle cx="360.84" cy="786.50" r="2.50" fill="#0000ff"/><circle cx="371.57" cy="788.20" r="2.50" fill="#0000ff"/><circle cx="382.30" cy="788.40" r="2.50" fill="#0000ff"/><circle cx="393.02" cy="787.50" r="2.50" fill="#0000ff"/><circle cx="403.75" cy="788.70" r="2.50" fill="#0000ff"/><circle cx="414.48" cy="790.90" r="2.50" fill="#0000ff"/><circle cx="425.21" cy="794.30" r="2.50" fill="#0000ff"/><circle cx="435.94" cy="797.30" r="2.50" fill="#0000ff"/><circle cx="446.66" cy="799.00" r="2.50" fill="#0000ff"/><circle cx="457.39" cy="799.80" r="2.50" fill="#0000ff"/><circle cx="468.12" cy="800.30" r="2.50" fill="#0000ff"/><circle cx="478.84" cy="800.70" r="2.50" fill="#0000ff"/><circle cx="489.57" cy="801.00" r="2.50" fill="#0000ff"/><circle cx="500.30" cy="801.20" r="2.50" fill="#0000ff"/></g>
<g clip-path="url(#cd)"><path d="M602.09,751.00 C603.68,751.95 608.45,758.63 611.62,756.70 C614.80,754.77 617.98,747.35 621.16,739.40 C624.33,731.45 627.51,720.52 630.69,709.00 C633.86,697.48 637.04,683.95 640.22,670.30 C643.39,656.65 646.57,636.85 649.75,627.10 C652.93,617.35 656.10,612.92 659.28,611.80 C662.46,610.68 665.63,616.42 668.81,620.40 C671.99,624.38 675.17,629.15 678.34,635.70 C681.52,642.25 684.70,650.85 687.87,659.70 C691.05,668.55 694.23,680.00 697.40,688.80 C700.58,697.60 703.76,705.52 706.94,712.50 C710.11,719.48 713.29,725.00 716.47,730.70 C719.64,736.40 722.82,741.95 726.00,746.70 C729.17,751.45 732.35,755.48 735.53,759.20 C738.71,762.92 741.88,766.25 745.06,769.00 C748.24,771.75 751.41,773.60 754.59,775.70 C757.77,777.80 760.95,779.87 764.12,781.60 C767.30,783.33 770.48,784.85 773.65,786.10 C776.83,787.35 780.01,788.42 783.18,789.10 C786.36,789.78 789.54,790.00 792.72,790.20 C795.89,790.40 799.07,790.23 802.25,790.30 C805.42,790.37 808.60,790.48 811.78,790.60 C814.95,790.72 818.13,790.73 821.31,791.00 C824.49,791.27 827.66,792.00 830.84,792.20 C834.02,792.40 837.19,795.00 840.37,792.20 C843.55,789.40 848.31,778.20 849.90,775.40" fill="none" stroke="#ff0000" stroke-width="1.5" stroke-linejoin="round"/><path d="M602.09,748.12L604.89,752.92L599.29,752.92Z" fill="#ff0000"/><path d="M611.62,753.82L614.42,758.62L608.82,758.62Z" fill="#ff0000"/><path d="M621.16,736.52L623.96,741.32L618.36,741.32Z" fill="#ff0000"/><path d="M630.69,706.12L633.49,710.92L627.89,710.92Z" fill="#ff0000"/><path d="M640.22,667.42L643.02,672.22L637.42,672.22Z" fill="#ff0000"/><path d="M649.75,624.22L652.55,629.02L646.95,629.02Z" fill="#ff0000"/><path d="M659.28,608.92L662.08,613.72L656.48,613.72Z" fill="#ff0000"/><path d="M668.81,617.52L671.61,622.32L666.01,622.32Z" fill="#ff0000"/><path d="M678.34,632.82L681.14,637.62L675.54,637.62Z" fill="#ff0000"/><path d="M687.87,656.82L690.67,661.62L685.07,661.62Z" fill="#ff0000"/><path d="M697.40,685.92L700.20,690.72L694.60,690.72Z" fill="#ff0000"/><path d="M706.94,709.62L709.74,714.42L704.14,714.42Z" fill="#ff0000"/><path d="M716.47,727.82L719.27,732.62L713.67,732.62Z" fill="#ff0000"/><path d="M726.00,743.82L728.80,748.62L723.20,748.62Z" fill="#ff0000"/><path d="M735.53,756.32L738.33,761.12L732.73,761.12Z" fill="#ff0000"/><path d="M745.06,766.12L747.86,770.92L742.26,770.92Z" fill="#ff0000"/><path d="M754.59,772.82L757.39,777.62L751.79,777.62Z" fill="#ff0000"/><path d="M764.12,778.72L766.92,783.52L761.32,783.52Z" fill="#ff0000"/><path d="M773.65,783.22L776.45,788.02L770.85,788.02Z" fill="#ff0000"/><path d="M783.18,786.22L785.98,791.02L780.38,791.02Z" fill="#ff0000"/><path d="M792.72,787.32L795.52,792.12L789.92,792.12Z" fill="#ff0000"/><path d="M802.25,787.42L805.05,792.22L799.45,792.22Z" fill="#ff0000"/><path d="M811.78,787.72L814.58,792.52L808.98,792.52Z" fill="#ff0000"/><path d="M821.31,788.12L824.11,792.92L818.51,792.92Z" fill="#ff0000"/><path d="M830.84,789.32L833.64,794.12L828.04,794.12Z" fill="#ff0000"/><path d="M840.37,789.32L843.17,794.12L837.57,794.12Z" fill="#ff0000"/><path d="M849.90,772.52L852.70,777.32L847.10,777.32Z" fill="#ff0000"/></g>
<g clip-path="url(#cd)"><path d="M735.53,792.40 C737.12,788.57 741.88,781.13 745.06,769.40 C748.24,757.67 751.41,741.63 754.59,722.00 C757.77,702.37 760.95,676.47 764.12,651.60 C767.30,626.73 770.48,594.62 773.65,572.80 C776.83,550.98 780.01,528.97 783.18,520.70 C786.36,512.43 789.54,516.67 792.72,523.20 C795.89,529.73 799.07,548.73 802.25,559.90 C805.42,571.07 808.60,583.13 811.78,590.20 C814.95,597.27 818.13,599.23 821.31,602.30 C824.49,605.37 827.66,604.27 830.84,608.60 C834.02,612.93 837.19,619.67 840.37,628.30 C843.55,636.93 846.73,649.25 849.90,660.40 C853.08,671.55 856.26,685.15 859.43,695.20 C862.61,705.25 865.79,713.33 868.96,720.70 C872.14,728.07 875.32,733.93 878.50,739.40 C881.67,744.87 884.85,749.28 888.03,753.50 C891.20,757.72 894.38,761.60 897.56,764.70 C900.73,767.80 903.91,769.75 907.09,772.10 C910.27,774.45 913.44,776.63 916.62,778.80 C919.80,780.97 922.97,783.25 926.15,785.10 C929.33,786.95 932.51,788.47 935.68,789.90 C938.86,791.33 942.04,792.73 945.21,793.70 C948.39,794.67 951.57,795.00 954.74,795.70 C957.92,796.40 961.10,797.32 964.28,797.90 C967.45,798.48 970.63,798.73 973.81,799.20 C976.98,799.67 980.16,800.32 983.34,800.70 C986.51,801.08 989.69,801.28 992.87,801.50 C996.05,801.72 1000.81,801.92 1002.40,802.00" fill="none" stroke="#000" stroke-width="1.5" stroke-linejoin="round"/><rect x="733.43" y="790.30" width="4.20" height="4.20" fill="#000"/><rect x="742.96" y="767.30" width="4.20" height="4.20" fill="#000"/><rect x="752.49" y="719.90" width="4.20" height="4.20" fill="#000"/><rect x="762.02" y="649.50" width="4.20" height="4.20" fill="#000"/><rect x="771.55" y="570.70" width="4.20" height="4.20" fill="#000"/><rect x="781.08" y="518.60" width="4.20" height="4.20" fill="#000"/><rect x="790.62" y="521.10" width="4.20" height="4.20" fill="#000"/><rect x="800.15" y="557.80" width="4.20" height="4.20" fill="#000"/><rect x="809.68" y="588.10" width="4.20" height="4.20" fill="#000"/><rect x="819.21" y="600.20" width="4.20" height="4.20" fill="#000"/><rect x="828.74" y="606.50" width="4.20" height="4.20" fill="#000"/><rect x="838.27" y="626.20" width="4.20" height="4.20" fill="#000"/><rect x="847.80" y="658.30" width="4.20" height="4.20" fill="#000"/><rect x="857.33" y="693.10" width="4.20" height="4.20" fill="#000"/><rect x="866.86" y="718.60" width="4.20" height="4.20" fill="#000"/><rect x="876.40" y="737.30" width="4.20" height="4.20" fill="#000"/><rect x="885.93" y="751.40" width="4.20" height="4.20" fill="#000"/><rect x="895.46" y="762.60" width="4.20" height="4.20" fill="#000"/><rect x="904.99" y="770.00" width="4.20" height="4.20" fill="#000"/><rect x="914.52" y="776.70" width="4.20" height="4.20" fill="#000"/><rect x="924.05" y="783.00" width="4.20" height="4.20" fill="#000"/><rect x="933.58" y="787.80" width="4.20" height="4.20" fill="#000"/><rect x="943.11" y="791.60" width="4.20" height="4.20" fill="#000"/><rect x="952.64" y="793.60" width="4.20" height="4.20" fill="#000"/><rect x="962.18" y="795.80" width="4.20" height="4.20" fill="#000"/><rect x="971.71" y="797.10" width="4.20" height="4.20" fill="#000"/><rect x="981.24" y="798.60" width="4.20" height="4.20" fill="#000"/><rect x="990.77" y="799.40" width="4.20" height="4.20" fill="#000"/><rect x="1000.30" y="799.90" width="4.20" height="4.20" fill="#000"/></g>
<g clip-path="url(#cd)"><path d="M621.16,803.60 C622.74,803.60 627.51,803.63 630.69,803.60 C633.86,803.57 637.04,803.53 640.22,803.40 C643.39,803.27 646.57,802.95 649.75,802.80 C652.93,802.65 656.10,802.57 659.28,802.50 C662.46,802.43 665.63,802.42 668.81,802.40 C671.99,802.38 675.17,802.42 678.34,802.40 C681.52,802.38 684.70,802.33 687.87,802.30 C691.05,802.27 694.23,802.28 697.40,802.20 C700.58,802.12 703.76,802.03 706.94,801.80 C710.11,801.57 713.29,801.47 716.47,800.80 C719.64,800.13 722.82,799.95 726.00,797.80 C729.17,795.65 732.35,793.28 735.53,787.90 C738.71,782.52 741.88,776.27 745.06,765.50 C748.24,754.73 751.41,740.18 754.59,723.30 C757.77,706.42 760.95,683.40 764.12,664.20 C767.30,645.00 770.48,622.08 773.65,608.10 C776.83,594.12 780.01,583.37 783.18,580.30 C786.36,577.23 789.54,583.20 792.72,589.70 C795.89,596.20 799.07,610.25 802.25,619.30 C805.42,628.35 808.60,637.43 811.78,644.00 C814.95,650.57 818.13,653.82 821.31,658.70 C824.49,663.58 827.66,667.60 830.84,673.30 C834.02,679.00 837.19,685.67 840.37,692.90 C843.55,700.13 846.73,709.03 849.90,716.70 C853.08,724.37 856.26,732.62 859.43,738.90 C862.61,745.18 865.79,749.92 868.96,754.40 C872.14,758.88 875.32,762.57 878.50,765.80 C881.67,769.03 884.85,771.50 888.03,773.80 C891.20,776.10 894.38,779.18 897.56,779.60 C900.73,780.02 905.50,776.85 907.09,776.30" fill="none" stroke="#0000ff" stroke-width="1.5" stroke-linejoin="round"/><circle cx="621.16" cy="803.60" r="2.50" fill="#0000ff"/><circle cx="630.69" cy="803.60" r="2.50" fill="#0000ff"/><circle cx="640.22" cy="803.40" r="2.50" fill="#0000ff"/><circle cx="649.75" cy="802.80" r="2.50" fill="#0000ff"/><circle cx="659.28" cy="802.50" r="2.50" fill="#0000ff"/><circle cx="668.81" cy="802.40" r="2.50" fill="#0000ff"/><circle cx="678.34" cy="802.40" r="2.50" fill="#0000ff"/><circle cx="687.87" cy="802.30" r="2.50" fill="#0000ff"/><circle cx="697.40" cy="802.20" r="2.50" fill="#0000ff"/><circle cx="706.94" cy="801.80" r="2.50" fill="#0000ff"/><circle cx="716.47" cy="800.80" r="2.50" fill="#0000ff"/><circle cx="726.00" cy="797.80" r="2.50" fill="#0000ff"/><circle cx="735.53" cy="787.90" r="2.50" fill="#0000ff"/><circle cx="745.06" cy="765.50" r="2.50" fill="#0000ff"/><circle cx="754.59" cy="723.30" r="2.50" fill="#0000ff"/><circle cx="764.12" cy="664.20" r="2.50" fill="#0000ff"/><circle cx="773.65" cy="608.10" r="2.50" fill="#0000ff"/><circle cx="783.18" cy="580.30" r="2.50" fill="#0000ff"/><circle cx="792.72" cy="589.70" r="2.50" fill="#0000ff"/><circle cx="802.25" cy="619.30" r="2.50" fill="#0000ff"/><circle cx="811.78" cy="644.00" r="2.50" fill="#0000ff"/><circle cx="821.31" cy="658.70" r="2.50" fill="#0000ff"/><circle cx="830.84" cy="673.30" r="2.50" fill="#0000ff"/><circle cx="840.37" cy="692.90" r="2.50" fill="#0000ff"/><circle cx="849.90" cy="716.70" r="2.50" fill="#0000ff"/><circle cx="859.43" cy="738.90" r="2.50" fill="#0000ff"/><circle cx="868.96" cy="754.40" r="2.50" fill="#0000ff"/><circle cx="878.50" cy="765.80" r="2.50" fill="#0000ff"/><circle cx="888.03" cy="773.80" r="2.50" fill="#0000ff"/><circle cx="897.56" cy="779.60" r="2.50" fill="#0000ff"/><circle cx="907.09" cy="776.30" r="2.50" fill="#0000ff"/></g>
<rect x="70.20" y="52.35" width="429.10" height="315.75" fill="none" stroke="#000" stroke-width="1.9"/><line x1="70.20" y1="368.10" x2="70.20" y2="375.10" stroke="#000" stroke-width="1.9"/><text transform="translate(70.20,391.90) scale(0.94,1.03)" text-anchor="middle" font-size="17" font-family="'Liberation Sans', sans-serif" font-weight="bold">300</text><line x1="177.48" y1="368.10" x2="177.48" y2="375.10" stroke="#000" stroke-width="1.9"/><text transform="translate(177.48,391.90) scale(0.94,1.03)" text-anchor="middle" font-size="17" font-family="'Liberation Sans', sans-serif" font-weight="bold">400</text><line x1="284.75" y1="368.10" x2="284.75" y2="375.10" stroke="#000" stroke-width="1.9"/><text transform="translate(284.75,391.90) scale(0.94,1.03)" text-anchor="middle" font-size="17" font-family="'Liberation Sans', sans-serif" font-weight="bold">500</text><line x1="392.02" y1="368.10" x2="392.02" y2="375.10" stroke="#000" stroke-width="1.9"/><text transform="translate(392.02,391.90) scale(0.94,1.03)" text-anchor="middle" font-size="17" font-family="'Liberation Sans', sans-serif" font-weight="bold">600</text><line x1="499.30" y1="368.10" x2="499.30" y2="375.10" stroke="#000" stroke-width="1.9"/><text transform="translate(499.30,391.90) scale(0.94,1.03)" text-anchor="middle" font-size="17" font-family="'Liberation Sans', sans-serif" font-weight="bold">700</text><line x1="123.84" y1="368.10" x2="123.84" y2="372.10" stroke="#000" stroke-width="1.9"/><line x1="231.11" y1="368.10" x2="231.11" y2="372.10" stroke="#000" stroke-width="1.9"/><line x1="338.39" y1="368.10" x2="338.39" y2="372.10" stroke="#000" stroke-width="1.9"/><line x1="445.66" y1="368.10" x2="445.66" y2="372.10" stroke="#000" stroke-width="1.9"/><line x1="63.20" y1="368.10" x2="70.20" y2="368.10" stroke="#000" stroke-width="1.9"/><text transform="translate(59.10,372.60) scale(0.94,1.03)" text-anchor="end" font-size="17" font-family="'Liberation Sans', sans-serif" font-weight="bold">0.0</text><line x1="63.20" y1="315.48" x2="70.20" y2="315.48" stroke="#000" stroke-width="1.9"/><text transform="translate(59.10,319.98) scale(0.94,1.03)" text-anchor="end" font-size="17" font-family="'Liberation Sans', sans-serif" font-weight="bold">0.5</text><line x1="63.20" y1="262.85" x2="70.20" y2="262.85" stroke="#000" stroke-width="1.9"/><text transform="translate(59.10,267.35) scale(0.94,1.03)" text-anchor="end" font-size="17" font-family="'Liberation Sans', sans-serif" font-weight="bold">1.0</text><line x1="63.20" y1="210.23" x2="70.20" y2="210.23" stroke="#000" stroke-width="1.9"/><text transform="translate(59.10,214.73) scale(0.94,1.03)" text-anchor="end" font-size="17" font-family="'Liberation Sans', sans-serif" font-weight="bold">1.5</text><line x1="63.20" y1="157.60" x2="70.20" y2="157.60" stroke="#000" stroke-width="1.9"/><text transform="translate(59.10,162.10) scale(0.94,1.03)" text-anchor="end" font-size="17" font-family="'Liberation Sans', sans-serif" font-weight="bold">2.0</text><line x1="63.20" y1="104.98" x2="70.20" y2="104.98" stroke="#000" stroke-width="1.9"/><text transform="translate(59.10,109.48) scale(0.94,1.03)" text-anchor="end" font-size="17" font-family="'Liberation Sans', sans-serif" font-weight="bold">2.5</text><line x1="63.20" y1="52.35" x2="70.20" y2="52.35" stroke="#000" stroke-width="1.9"/><text transform="translate(59.10,56.85) scale(0.94,1.03)" text-anchor="end" font-size="17" font-family="'Liberation Sans', sans-serif" font-weight="bold">3.0</text><line x1="66.20" y1="341.79" x2="70.20" y2="341.79" stroke="#000" stroke-width="1.9"/><line x1="66.20" y1="289.16" x2="70.20" y2="289.16" stroke="#000" stroke-width="1.9"/><line x1="66.20" y1="236.54" x2="70.20" y2="236.54" stroke="#000" stroke-width="1.9"/><line x1="66.20" y1="183.91" x2="70.20" y2="183.91" stroke="#000" stroke-width="1.9"/><line x1="66.20" y1="131.29" x2="70.20" y2="131.29" stroke="#000" stroke-width="1.9"/><line x1="66.20" y1="78.66" x2="70.20" y2="78.66" stroke="#000" stroke-width="1.9"/>
<rect x="573.20" y="52.35" width="428.00" height="315.75" fill="none" stroke="#000" stroke-width="1.9"/><line x1="573.20" y1="368.10" x2="573.20" y2="375.10" stroke="#000" stroke-width="1.9"/><text transform="translate(573.20,391.90) scale(0.94,1.03)" text-anchor="middle" font-size="17" font-family="'Liberation Sans', sans-serif" font-weight="bold">350</text><line x1="620.76" y1="368.10" x2="620.76" y2="375.10" stroke="#000" stroke-width="1.9"/><text transform="translate(620.76,391.90) scale(0.94,1.03)" text-anchor="middle" font-size="17" font-family="'Liberation Sans', sans-serif" font-weight="bold">400</text><line x1="668.31" y1="368.10" x2="668.31" y2="375.10" stroke="#000" stroke-width="1.9"/><text transform="translate(668.31,391.90) scale(0.94,1.03)" text-anchor="middle" font-size="17" font-family="'Liberation Sans', sans-serif" font-weight="bold">450</text><line x1="715.87" y1="368.10" x2="715.87" y2="375.10" stroke="#000" stroke-width="1.9"/><text transform="translate(715.87,391.90) scale(0.94,1.03)" text-anchor="middle" font-size="17" font-family="'Liberation Sans', sans-serif" font-weight="bold">500</text><line x1="763.42" y1="368.10" x2="763.42" y2="375.10" stroke="#000" stroke-width="1.9"/><text transform="translate(763.42,391.90) scale(0.94,1.03)" text-anchor="middle" font-size="17" font-family="'Liberation Sans', sans-serif" font-weight="bold">550</text><line x1="810.98" y1="368.10" x2="810.98" y2="375.10" stroke="#000" stroke-width="1.9"/><text transform="translate(810.98,391.90) scale(0.94,1.03)" text-anchor="middle" font-size="17" font-family="'Liberation Sans', sans-serif" font-weight="bold">600</text><line x1="858.53" y1="368.10" x2="858.53" y2="375.10" stroke="#000" stroke-width="1.9"/><text transform="translate(858.53,391.90) scale(0.94,1.03)" text-anchor="middle" font-size="17" font-family="'Liberation Sans', sans-serif" font-weight="bold">650</text><line x1="906.09" y1="368.10" x2="906.09" y2="375.10" stroke="#000" stroke-width="1.9"/><text transform="translate(906.09,391.90) scale(0.94,1.03)" text-anchor="middle" font-size="17" font-family="'Liberation Sans', sans-serif" font-weight="bold">700</text><line x1="953.64" y1="368.10" x2="953.64" y2="375.10" stroke="#000" stroke-width="1.9"/><text transform="translate(953.64,391.90) scale(0.94,1.03)" text-anchor="middle" font-size="17" font-family="'Liberation Sans', sans-serif" font-weight="bold">750</text><line x1="1001.20" y1="368.10" x2="1001.20" y2="375.10" stroke="#000" stroke-width="1.9"/><text transform="translate(1001.20,391.90) scale(0.94,1.03)" text-anchor="middle" font-size="17" font-family="'Liberation Sans', sans-serif" font-weight="bold">800</text><line x1="596.98" y1="368.10" x2="596.98" y2="372.10" stroke="#000" stroke-width="1.9"/><line x1="644.53" y1="368.10" x2="644.53" y2="372.10" stroke="#000" stroke-width="1.9"/><line x1="692.09" y1="368.10" x2="692.09" y2="372.10" stroke="#000" stroke-width="1.9"/><line x1="739.64" y1="368.10" x2="739.64" y2="372.10" stroke="#000" stroke-width="1.9"/><line x1="787.20" y1="368.10" x2="787.20" y2="372.10" stroke="#000" stroke-width="1.9"/><line x1="834.76" y1="368.10" x2="834.76" y2="372.10" stroke="#000" stroke-width="1.9"/><line x1="882.31" y1="368.10" x2="882.31" y2="372.10" stroke="#000" stroke-width="1.9"/><line x1="929.87" y1="368.10" x2="929.87" y2="372.10" stroke="#000" stroke-width="1.9"/><line x1="977.42" y1="368.10" x2="977.42" y2="372.10" stroke="#000" stroke-width="1.9"/><line x1="566.20" y1="368.10" x2="573.20" y2="368.10" stroke="#000" stroke-width="1.9"/><text transform="translate(562.10,372.60) scale(0.94,1.03)" text-anchor="end" font-size="17" font-family="'Liberation Sans', sans-serif" font-weight="bold">0</text><line x1="566.20" y1="322.99" x2="573.20" y2="322.99" stroke="#000" stroke-width="1.9"/><text transform="translate(562.10,327.49) scale(0.94,1.03)" text-anchor="end" font-size="17" font-family="'Liberation Sans', sans-serif" font-weight="bold">100</text><line x1="566.20" y1="277.89" x2="573.20" y2="277.89" stroke="#000" stroke-width="1.9"/><text transform="translate(562.10,282.39) scale(0.94,1.03)" text-anchor="end" font-size="17" font-family="'Liberation Sans', sans-serif" font-weight="bold">200</text><line x1="566.20" y1="232.78" x2="573.20" y2="232.78" stroke="#000" stroke-width="1.9"/><text transform="translate(562.10,237.28) scale(0.94,1.03)" text-anchor="end" font-size="17" font-family="'Liberation Sans', sans-serif" font-weight="bold">300</text><line x1="566.20" y1="187.67" x2="573.20" y2="187.67" stroke="#000" stroke-width="1.9"/><text transform="translate(562.10,192.17) scale(0.94,1.03)" text-anchor="end" font-size="17" font-family="'Liberation Sans', sans-serif" font-weight="bold">400</text><line x1="566.20" y1="142.56" x2="573.20" y2="142.56" stroke="#000" stroke-width="1.9"/><text transform="translate(562.10,147.06) scale(0.94,1.03)" text-anchor="end" font-size="17" font-family="'Liberation Sans', sans-serif" font-weight="bold">500</text><line x1="566.20" y1="97.46" x2="573.20" y2="97.46" stroke="#000" stroke-width="1.9"/><text transform="translate(562.10,101.96) scale(0.94,1.03)" text-anchor="end" font-size="17" font-family="'Liberation Sans', sans-serif" font-weight="bold">600</text><line x1="566.20" y1="52.35" x2="573.20" y2="52.35" stroke="#000" stroke-width="1.9"/><text transform="translate(562.10,56.85) scale(0.94,1.03)" text-anchor="end" font-size="17" font-family="'Liberation Sans', sans-serif" font-weight="bold">700</text><line x1="569.20" y1="345.55" x2="573.20" y2="345.55" stroke="#000" stroke-width="1.9"/><line x1="569.20" y1="300.44" x2="573.20" y2="300.44" stroke="#000" stroke-width="1.9"/><line x1="569.20" y1="255.33" x2="573.20" y2="255.33" stroke="#000" stroke-width="1.9"/><line x1="569.20" y1="210.23" x2="573.20" y2="210.23" stroke="#000" stroke-width="1.9"/><line x1="569.20" y1="165.12" x2="573.20" y2="165.12" stroke="#000" stroke-width="1.9"/><line x1="569.20" y1="120.01" x2="573.20" y2="120.01" stroke="#000" stroke-width="1.9"/><line x1="569.20" y1="74.90" x2="573.20" y2="74.90" stroke="#000" stroke-width="1.9"/>
<rect x="70.20" y="488.40" width="429.10" height="315.70" fill="none" stroke="#000" stroke-width="1.9"/><line x1="70.20" y1="804.10" x2="70.20" y2="811.10" stroke="#000" stroke-width="1.9"/><text transform="translate(70.20,827.90) scale(0.94,1.03)" text-anchor="middle" font-size="17" font-family="'Liberation Sans', sans-serif" font-weight="bold">300</text><line x1="177.48" y1="804.10" x2="177.48" y2="811.10" stroke="#000" stroke-width="1.9"/><text transform="translate(177.48,827.90) scale(0.94,1.03)" text-anchor="middle" font-size="17" font-family="'Liberation Sans', sans-serif" font-weight="bold">400</text><line x1="284.75" y1="804.10" x2="284.75" y2="811.10" stroke="#000" stroke-width="1.9"/><text transform="translate(284.75,827.90) scale(0.94,1.03)" text-anchor="middle" font-size="17" font-family="'Liberation Sans', sans-serif" font-weight="bold">500</text><line x1="392.02" y1="804.10" x2="392.02" y2="811.10" stroke="#000" stroke-width="1.9"/><text transform="translate(392.02,827.90) scale(0.94,1.03)" text-anchor="middle" font-size="17" font-family="'Liberation Sans', sans-serif" font-weight="bold">600</text><line x1="499.30" y1="804.10" x2="499.30" y2="811.10" stroke="#000" stroke-width="1.9"/><text transform="translate(499.30,827.90) scale(0.94,1.03)" text-anchor="middle" font-size="17" font-family="'Liberation Sans', sans-serif" font-weight="bold">700</text><line x1="123.84" y1="804.10" x2="123.84" y2="808.10" stroke="#000" stroke-width="1.9"/><line x1="231.11" y1="804.10" x2="231.11" y2="808.10" stroke="#000" stroke-width="1.9"/><line x1="338.39" y1="804.10" x2="338.39" y2="808.10" stroke="#000" stroke-width="1.9"/><line x1="445.66" y1="804.10" x2="445.66" y2="808.10" stroke="#000" stroke-width="1.9"/><line x1="63.20" y1="804.10" x2="70.20" y2="804.10" stroke="#000" stroke-width="1.9"/><text transform="translate(59.10,808.60) scale(0.94,1.03)" text-anchor="end" font-size="17" font-family="'Liberation Sans', sans-serif" font-weight="bold">0.0</text><line x1="63.20" y1="751.48" x2="70.20" y2="751.48" stroke="#000" stroke-width="1.9"/><text transform="translate(59.10,755.98) scale(0.94,1.03)" text-anchor="end" font-size="17" font-family="'Liberation Sans', sans-serif" font-weight="bold">0.5</text><line x1="63.20" y1="698.85" x2="70.20" y2="698.85" stroke="#000" stroke-width="1.9"/><text transform="translate(59.10,703.35) scale(0.94,1.03)" text-anchor="end" font-size="17" font-family="'Liberation Sans', sans-serif" font-weight="bold">1.0</text><line x1="63.20" y1="646.23" x2="70.20" y2="646.23" stroke="#000" stroke-width="1.9"/><text transform="translate(59.10,650.73) scale(0.94,1.03)" text-anchor="end" font-size="17" font-family="'Liberation Sans', sans-serif" font-weight="bold">1.5</text><line x1="63.20" y1="593.60" x2="70.20" y2="593.60" stroke="#000" stroke-width="1.9"/><text transform="translate(59.10,598.10) scale(0.94,1.03)" text-anchor="end" font-size="17" font-family="'Liberation Sans', sans-serif" font-weight="bold">2.0</text><line x1="63.20" y1="540.98" x2="70.20" y2="540.98" stroke="#000" stroke-width="1.9"/><text transform="translate(59.10,545.48) scale(0.94,1.03)" text-anchor="end" font-size="17" font-family="'Liberation Sans', sans-serif" font-weight="bold">2.5</text><line x1="63.20" y1="488.35" x2="70.20" y2="488.35" stroke="#000" stroke-width="1.9"/><text transform="translate(59.10,492.85) scale(0.94,1.03)" text-anchor="end" font-size="17" font-family="'Liberation Sans', sans-serif" font-weight="bold">3.0</text><line x1="66.20" y1="777.79" x2="70.20" y2="777.79" stroke="#000" stroke-width="1.9"/><line x1="66.20" y1="725.16" x2="70.20" y2="725.16" stroke="#000" stroke-width="1.9"/><line x1="66.20" y1="672.54" x2="70.20" y2="672.54" stroke="#000" stroke-width="1.9"/><line x1="66.20" y1="619.91" x2="70.20" y2="619.91" stroke="#000" stroke-width="1.9"/><line x1="66.20" y1="567.29" x2="70.20" y2="567.29" stroke="#000" stroke-width="1.9"/><line x1="66.20" y1="514.66" x2="70.20" y2="514.66" stroke="#000" stroke-width="1.9"/>
<rect x="573.50" y="488.40" width="428.90" height="315.70" fill="none" stroke="#000" stroke-width="1.9"/><line x1="573.50" y1="804.10" x2="573.50" y2="811.10" stroke="#000" stroke-width="1.9"/><text transform="translate(573.50,827.90) scale(0.94,1.03)" text-anchor="middle" font-size="17" font-family="'Liberation Sans', sans-serif" font-weight="bold">350</text><line x1="621.16" y1="804.10" x2="621.16" y2="811.10" stroke="#000" stroke-width="1.9"/><text transform="translate(621.16,827.90) scale(0.94,1.03)" text-anchor="middle" font-size="17" font-family="'Liberation Sans', sans-serif" font-weight="bold">400</text><line x1="668.81" y1="804.10" x2="668.81" y2="811.10" stroke="#000" stroke-width="1.9"/><text transform="translate(668.81,827.90) scale(0.94,1.03)" text-anchor="middle" font-size="17" font-family="'Liberation Sans', sans-serif" font-weight="bold">450</text><line x1="716.47" y1="804.10" x2="716.47" y2="811.10" stroke="#000" stroke-width="1.9"/><text transform="translate(716.47,827.90) scale(0.94,1.03)" text-anchor="middle" font-size="17" font-family="'Liberation Sans', sans-serif" font-weight="bold">500</text><line x1="764.12" y1="804.10" x2="764.12" y2="811.10" stroke="#000" stroke-width="1.9"/><text transform="translate(764.12,827.90) scale(0.94,1.03)" text-anchor="middle" font-size="17" font-family="'Liberation Sans', sans-serif" font-weight="bold">550</text><line x1="811.78" y1="804.10" x2="811.78" y2="811.10" stroke="#000" stroke-width="1.9"/><text transform="translate(811.78,827.90) scale(0.94,1.03)" text-anchor="middle" font-size="17" font-family="'Liberation Sans', sans-serif" font-weight="bold">600</text><line x1="859.43" y1="804.10" x2="859.43" y2="811.10" stroke="#000" stroke-width="1.9"/><text transform="translate(859.43,827.90) scale(0.94,1.03)" text-anchor="middle" font-size="17" font-family="'Liberation Sans', sans-serif" font-weight="bold">650</text><line x1="907.09" y1="804.10" x2="907.09" y2="811.10" stroke="#000" stroke-width="1.9"/><text transform="translate(907.09,827.90) scale(0.94,1.03)" text-anchor="middle" font-size="17" font-family="'Liberation Sans', sans-serif" font-weight="bold">700</text><line x1="954.74" y1="804.10" x2="954.74" y2="811.10" stroke="#000" stroke-width="1.9"/><text transform="translate(954.74,827.90) scale(0.94,1.03)" text-anchor="middle" font-size="17" font-family="'Liberation Sans', sans-serif" font-weight="bold">750</text><line x1="1002.40" y1="804.10" x2="1002.40" y2="811.10" stroke="#000" stroke-width="1.9"/><text transform="translate(1002.40,827.90) scale(0.94,1.03)" text-anchor="middle" font-size="17" font-family="'Liberation Sans', sans-serif" font-weight="bold">800</text><line x1="597.33" y1="804.10" x2="597.33" y2="808.10" stroke="#000" stroke-width="1.9"/><line x1="644.98" y1="804.10" x2="644.98" y2="808.10" stroke="#000" stroke-width="1.9"/><line x1="692.64" y1="804.10" x2="692.64" y2="808.10" stroke="#000" stroke-width="1.9"/><line x1="740.29" y1="804.10" x2="740.29" y2="808.10" stroke="#000" stroke-width="1.9"/><line x1="787.95" y1="804.10" x2="787.95" y2="808.10" stroke="#000" stroke-width="1.9"/><line x1="835.61" y1="804.10" x2="835.61" y2="808.10" stroke="#000" stroke-width="1.9"/><line x1="883.26" y1="804.10" x2="883.26" y2="808.10" stroke="#000" stroke-width="1.9"/><line x1="930.92" y1="804.10" x2="930.92" y2="808.10" stroke="#000" stroke-width="1.9"/><line x1="978.57" y1="804.10" x2="978.57" y2="808.10" stroke="#000" stroke-width="1.9"/><line x1="566.50" y1="804.10" x2="573.50" y2="804.10" stroke="#000" stroke-width="1.9"/><text transform="translate(562.40,808.60) scale(0.94,1.03)" text-anchor="end" font-size="17" font-family="'Liberation Sans', sans-serif" font-weight="bold">0</text><line x1="566.50" y1="758.99" x2="573.50" y2="758.99" stroke="#000" stroke-width="1.9"/><text transform="translate(562.40,763.49) scale(0.94,1.03)" text-anchor="end" font-size="17" font-family="'Liberation Sans', sans-serif" font-weight="bold">100</text><line x1="566.50" y1="713.89" x2="573.50" y2="713.89" stroke="#000" stroke-width="1.9"/><text transform="translate(562.40,718.39) scale(0.94,1.03)" text-anchor="end" font-size="17" font-family="'Liberation Sans', sans-serif" font-weight="bold">200</text><line x1="566.50" y1="668.78" x2="573.50" y2="668.78" stroke="#000" stroke-width="1.9"/><text transform="translate(562.40,673.28) scale(0.94,1.03)" text-anchor="end" font-size="17" font-family="'Liberation Sans', sans-serif" font-weight="bold">300</text><line x1="566.50" y1="623.67" x2="573.50" y2="623.67" stroke="#000" stroke-width="1.9"/><text transform="translate(562.40,628.17) scale(0.94,1.03)" text-anchor="end" font-size="17" font-family="'Liberation Sans', sans-serif" font-weight="bold">400</text><line x1="566.50" y1="578.56" x2="573.50" y2="578.56" stroke="#000" stroke-width="1.9"/><text transform="translate(562.40,583.06) scale(0.94,1.03)" text-anchor="end" font-size="17" font-family="'Liberation Sans', sans-serif" font-weight="bold">500</text><line x1="566.50" y1="533.46" x2="573.50" y2="533.46" stroke="#000" stroke-width="1.9"/><text transform="translate(562.40,537.96) scale(0.94,1.03)" text-anchor="end" font-size="17" font-family="'Liberation Sans', sans-serif" font-weight="bold">600</text><line x1="566.50" y1="488.35" x2="573.50" y2="488.35" stroke="#000" stroke-width="1.9"/><text transform="translate(562.40,492.85) scale(0.94,1.03)" text-anchor="end" font-size="17" font-family="'Liberation Sans', sans-serif" font-weight="bold">700</text><line x1="569.50" y1="781.55" x2="573.50" y2="781.55" stroke="#000" stroke-width="1.9"/><line x1="569.50" y1="736.44" x2="573.50" y2="736.44" stroke="#000" stroke-width="1.9"/><line x1="569.50" y1="691.33" x2="573.50" y2="691.33" stroke="#000" stroke-width="1.9"/><line x1="569.50" y1="646.23" x2="573.50" y2="646.23" stroke="#000" stroke-width="1.9"/><line x1="569.50" y1="601.12" x2="573.50" y2="601.12" stroke="#000" stroke-width="1.9"/><line x1="569.50" y1="556.01" x2="573.50" y2="556.01" stroke="#000" stroke-width="1.9"/><line x1="569.50" y1="510.90" x2="573.50" y2="510.90" stroke="#000" stroke-width="1.9"/>
<text x="285" y="420.1" text-anchor="middle" font-size="16.4" font-family="'Liberation Sans', sans-serif" font-weight="bold">Wavelength (nm)</text>
<text x="787.7" y="419.9" text-anchor="middle" font-size="16.4" font-family="'Liberation Sans', sans-serif" font-weight="bold">Wavelength (nm)</text>
<text x="285" y="856" text-anchor="middle" font-size="16.4" font-family="'Liberation Sans', sans-serif" font-weight="bold">Wavelength (nm)</text>
<text x="788" y="856" text-anchor="middle" font-size="16.4" font-family="'Liberation Sans', sans-serif" font-weight="bold">Wavelength (nm)</text>
<text transform="translate(25.2,225.5) rotate(-90)" text-anchor="middle" font-size="16.9" font-family="'Liberation Sans', sans-serif" font-weight="bold">Absorbance</text>
<text transform="translate(19.0,653.4) rotate(-90)" text-anchor="middle" font-size="16.9" font-family="'Liberation Sans', sans-serif" font-weight="bold">Absorbance</text>
<text transform="translate(519.9,211.5) rotate(-90)" text-anchor="middle" font-size="16.9" font-family="'Liberation Sans', sans-serif" font-weight="bold">Photoluminescence Intensity</text>
<text transform="translate(519.9,646.6) rotate(-90)" text-anchor="middle" font-size="16.9" font-family="'Liberation Sans', sans-serif" font-weight="bold">Photoluminescence Intensity</text>
<text x="84.0" y="95.2" font-size="34.3" letter-spacing="0.6" font-family="'Liberation Sans', sans-serif">(a)</text>
<text x="601.8" y="95.0" font-size="34.3" letter-spacing="0.6" font-family="'Liberation Sans', sans-serif">(b)</text>
<text x="87.3" y="529.6" font-size="34.3" letter-spacing="0.6" font-family="'Liberation Sans', sans-serif">(c)</text>
<text x="590" y="529.6" font-size="34.3" letter-spacing="0.6" font-family="'Liberation Sans', sans-serif">(d)</text>
<line x1="337.80" y1="73.30" x2="348.00" y2="73.30" stroke="#000" stroke-width="1.5"/><line x1="359.40" y1="73.30" x2="369.40" y2="73.30" stroke="#000" stroke-width="1.5"/><rect x="351.65" y="71.20" width="4.20" height="4.20" fill="#000"/><text transform="translate(373.00,78.30) scale(0.905,1)" font-size="14.8" font-family="'Liberation Sans', sans-serif" font-weight="bold">P3HT</text><line x1="337.80" y1="90.50" x2="348.00" y2="90.50" stroke="#ff0000" stroke-width="1.5"/><line x1="359.40" y1="90.50" x2="369.40" y2="90.50" stroke="#ff0000" stroke-width="1.5"/><path d="M353.75,87.62L356.55,92.42L350.95,92.42Z" fill="#ff0000"/><text transform="translate(373.00,95.50) scale(0.905,1)" font-size="14.8" font-family="'Liberation Sans', sans-serif" font-weight="bold">DMABI-Ju</text><line x1="337.80" y1="108.40" x2="348.00" y2="108.40" stroke="#0000ff" stroke-width="1.5"/><line x1="359.40" y1="108.40" x2="369.40" y2="108.40" stroke="#0000ff" stroke-width="1.5"/><circle cx="353.75" cy="108.40" r="2.50" fill="#0000ff"/><text transform="translate(373.00,113.40) scale(0.905,1)" font-size="14.8" font-family="'Liberation Sans', sans-serif" font-weight="bold">P3HT / DMABI-Ju</text>
<line x1="830.30" y1="69.60" x2="840.75" y2="69.60" stroke="#000" stroke-width="1.5"/><line x1="851.50" y1="69.60" x2="861.80" y2="69.60" stroke="#000" stroke-width="1.5"/><rect x="843.90" y="67.50" width="4.20" height="4.20" fill="#000"/><text transform="translate(869.40,74.60) scale(0.905,1)" font-size="14.8" font-family="'Liberation Sans', sans-serif" font-weight="bold">P3HT</text><line x1="830.30" y1="87.40" x2="840.75" y2="87.40" stroke="#ff0000" stroke-width="1.5"/><line x1="851.50" y1="87.40" x2="861.80" y2="87.40" stroke="#ff0000" stroke-width="1.5"/><path d="M846.00,84.52L848.80,89.32L843.20,89.32Z" fill="#ff0000"/><text transform="translate(869.40,92.40) scale(0.905,1)" font-size="14.8" font-family="'Liberation Sans', sans-serif" font-weight="bold">DMABI-Ju</text><line x1="830.30" y1="104.80" x2="840.75" y2="104.80" stroke="#0000ff" stroke-width="1.5"/><line x1="851.50" y1="104.80" x2="861.80" y2="104.80" stroke="#0000ff" stroke-width="1.5"/><circle cx="846.00" cy="104.80" r="2.50" fill="#0000ff"/><text transform="translate(869.40,109.80) scale(0.905,1)" font-size="14.8" font-family="'Liberation Sans', sans-serif" font-weight="bold">P3HT / DMABI-Ju</text>
<line x1="337.80" y1="507.50" x2="348.00" y2="507.50" stroke="#000" stroke-width="1.5"/><line x1="359.40" y1="507.50" x2="369.40" y2="507.50" stroke="#000" stroke-width="1.5"/><rect x="351.65" y="505.40" width="4.20" height="4.20" fill="#000"/><text transform="translate(373.00,512.50) scale(0.905,1)" font-size="14.8" font-family="'Liberation Sans', sans-serif" font-weight="bold">P3HT</text><line x1="337.80" y1="525.20" x2="348.00" y2="525.20" stroke="#ff0000" stroke-width="1.5"/><line x1="359.40" y1="525.20" x2="369.40" y2="525.20" stroke="#ff0000" stroke-width="1.5"/><path d="M353.75,522.32L356.55,527.12L350.95,527.12Z" fill="#ff0000"/><text transform="translate(373.00,530.20) scale(0.905,1)" font-size="14.8" font-family="'Liberation Sans', sans-serif" font-weight="bold">DMABI-OH</text><line x1="337.80" y1="543.10" x2="348.00" y2="543.10" stroke="#0000ff" stroke-width="1.5"/><line x1="359.40" y1="543.10" x2="369.40" y2="543.10" stroke="#0000ff" stroke-width="1.5"/><circle cx="353.75" cy="543.10" r="2.50" fill="#0000ff"/><text transform="translate(373.00,548.10) scale(0.905,1)" font-size="14.8" font-family="'Liberation Sans', sans-serif" font-weight="bold">P3HT / DMABI-OH</text>
<line x1="831.30" y1="505.30" x2="841.60" y2="505.30" stroke="#000" stroke-width="1.5"/><line x1="852.40" y1="505.30" x2="862.80" y2="505.30" stroke="#000" stroke-width="1.5"/><rect x="844.80" y="503.20" width="4.20" height="4.20" fill="#000"/><text transform="translate(870.80,510.30) scale(0.905,1)" font-size="14.8" font-family="'Liberation Sans', sans-serif" font-weight="bold">P3HT</text><line x1="831.30" y1="522.70" x2="841.60" y2="522.70" stroke="#ff0000" stroke-width="1.5"/><line x1="852.40" y1="522.70" x2="862.80" y2="522.70" stroke="#ff0000" stroke-width="1.5"/><path d="M846.90,519.82L849.70,524.62L844.10,524.62Z" fill="#ff0000"/><text transform="translate(870.80,527.70) scale(0.905,1)" font-size="14.8" font-family="'Liberation Sans', sans-serif" font-weight="bold">DMABI-OH</text><line x1="831.30" y1="540.10" x2="841.60" y2="540.10" stroke="#0000ff" stroke-width="1.5"/><line x1="852.40" y1="540.10" x2="862.80" y2="540.10" stroke="#0000ff" stroke-width="1.5"/><circle cx="846.90" cy="540.10" r="2.50" fill="#0000ff"/><text transform="translate(870.80,545.10) scale(0.905,1)" font-size="14.8" font-family="'Liberation Sans', sans-serif" font-weight="bold">P3HT / DMABI-OH</text>
</svg></body></html>
